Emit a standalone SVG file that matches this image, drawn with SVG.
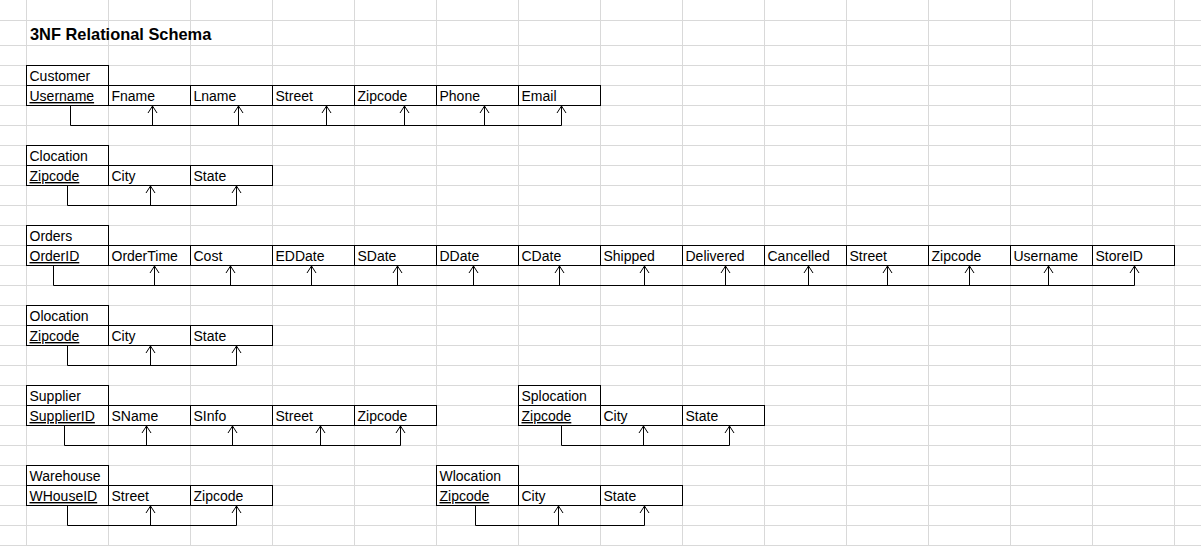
<svg xmlns="http://www.w3.org/2000/svg" width="1201" height="546" viewBox="0 0 1201 546">
<style>
.grid line{stroke:#d9d9d9;stroke-width:1}
.cell{fill:none;stroke:#000;stroke-width:1}
text{font-family:"Liberation Sans",Arial,sans-serif;font-size:14px;fill:#000}
.title{font-weight:bold;font-size:16.4px}
.key{text-decoration:underline}
.conn path{fill:none;stroke:#000;stroke-width:1}
</style>
<defs>
<marker id="arr" markerUnits="userSpaceOnUse" markerWidth="12" markerHeight="12" viewBox="-8 -6 10 12" refX="0" refY="0" orient="auto" overflow="visible">
<path d="M-7,-4.5 L0,0 L-7,4.5" fill="none" stroke="#000" stroke-width="1"/>
</marker>
</defs>
<rect width="1201" height="546" fill="#fff"/>
<g class="grid">
<line x1="26.5" y1="0" x2="26.5" y2="546"/>
<line x1="108.5" y1="0" x2="108.5" y2="546"/>
<line x1="190.5" y1="0" x2="190.5" y2="546"/>
<line x1="272.5" y1="0" x2="272.5" y2="546"/>
<line x1="354.5" y1="0" x2="354.5" y2="546"/>
<line x1="436.5" y1="0" x2="436.5" y2="546"/>
<line x1="518.5" y1="0" x2="518.5" y2="546"/>
<line x1="600.5" y1="0" x2="600.5" y2="546"/>
<line x1="682.5" y1="0" x2="682.5" y2="546"/>
<line x1="764.5" y1="0" x2="764.5" y2="546"/>
<line x1="846.5" y1="0" x2="846.5" y2="546"/>
<line x1="928.5" y1="0" x2="928.5" y2="546"/>
<line x1="1010.5" y1="0" x2="1010.5" y2="546"/>
<line x1="1092.5" y1="0" x2="1092.5" y2="546"/>
<line x1="1174.5" y1="0" x2="1174.5" y2="546"/>
<line x1="0" y1="20.5" x2="1201" y2="20.5"/>
<line x1="0" y1="45.5" x2="1201" y2="45.5"/>
<line x1="0" y1="65.5" x2="1201" y2="65.5"/>
<line x1="0" y1="85.5" x2="1201" y2="85.5"/>
<line x1="0" y1="105.5" x2="1201" y2="105.5"/>
<line x1="0" y1="125.5" x2="1201" y2="125.5"/>
<line x1="0" y1="145.5" x2="1201" y2="145.5"/>
<line x1="0" y1="165.5" x2="1201" y2="165.5"/>
<line x1="0" y1="185.5" x2="1201" y2="185.5"/>
<line x1="0" y1="205.5" x2="1201" y2="205.5"/>
<line x1="0" y1="225.5" x2="1201" y2="225.5"/>
<line x1="0" y1="245.5" x2="1201" y2="245.5"/>
<line x1="0" y1="265.5" x2="1201" y2="265.5"/>
<line x1="0" y1="285.5" x2="1201" y2="285.5"/>
<line x1="0" y1="305.5" x2="1201" y2="305.5"/>
<line x1="0" y1="325.5" x2="1201" y2="325.5"/>
<line x1="0" y1="345.5" x2="1201" y2="345.5"/>
<line x1="0" y1="365.5" x2="1201" y2="365.5"/>
<line x1="0" y1="385.5" x2="1201" y2="385.5"/>
<line x1="0" y1="405.5" x2="1201" y2="405.5"/>
<line x1="0" y1="425.5" x2="1201" y2="425.5"/>
<line x1="0" y1="445.5" x2="1201" y2="445.5"/>
<line x1="0" y1="465.5" x2="1201" y2="465.5"/>
<line x1="0" y1="485.5" x2="1201" y2="485.5"/>
<line x1="0" y1="505.5" x2="1201" y2="505.5"/>
<line x1="0" y1="525.5" x2="1201" y2="525.5"/>
<line x1="0" y1="545.5" x2="1201" y2="545.5"/>
</g>
<text class="title" x="30" y="40">3NF Relational Schema</text>

<g id="customer">
<rect class="cell" x="26.5" y="65.5" width="82" height="20"/>
<text x="29.5" y="81">Customer</text>
<rect class="cell" x="26.5" y="85.5" width="574" height="20"/>
<path class="cell" d="M108.5,85.5V105.5M190.5,85.5V105.5M272.5,85.5V105.5M354.5,85.5V105.5M436.5,85.5V105.5M518.5,85.5V105.5"/>
<text class="key" x="29.5" y="101">Username</text>
<text x="111.5" y="101">Fname</text>
<text x="193.5" y="101">Lname</text>
<text x="275.5" y="101">Street</text>
<text x="357.5" y="101">Zipcode</text>
<text x="439.5" y="101">Phone</text>
<text x="521.5" y="101">Email</text>
</g>

<g id="clocation">
<rect class="cell" x="26.5" y="145.5" width="82" height="20"/>
<text x="29.5" y="161">Clocation</text>
<rect class="cell" x="26.5" y="165.5" width="246" height="20"/>
<path class="cell" d="M108.5,165.5V185.5M190.5,165.5V185.5"/>
<text class="key" x="29.5" y="181">Zipcode</text>
<text x="111.5" y="181">City</text>
<text x="193.5" y="181">State</text>
</g>

<g id="orders">
<rect class="cell" x="26.5" y="225.5" width="82" height="20"/>
<text x="29.5" y="241">Orders</text>
<rect class="cell" x="26.5" y="245.5" width="1148" height="20"/>
<path class="cell" d="M108.5,245.5V265.5M190.5,245.5V265.5M272.5,245.5V265.5M354.5,245.5V265.5M436.5,245.5V265.5M518.5,245.5V265.5M600.5,245.5V265.5M682.5,245.5V265.5M764.5,245.5V265.5M846.5,245.5V265.5M928.5,245.5V265.5M1010.5,245.5V265.5M1092.5,245.5V265.5"/>
<text class="key" x="29.5" y="261">OrderID</text>
<text x="111.5" y="261">OrderTime</text>
<text x="193.5" y="261">Cost</text>
<text x="275.5" y="261">EDDate</text>
<text x="357.5" y="261">SDate</text>
<text x="439.5" y="261">DDate</text>
<text x="521.5" y="261">CDate</text>
<text x="603.5" y="261">Shipped</text>
<text x="685.5" y="261">Delivered</text>
<text x="767.5" y="261">Cancelled</text>
<text x="849.5" y="261">Street</text>
<text x="931.5" y="261">Zipcode</text>
<text x="1013.5" y="261">Username</text>
<text x="1095.5" y="261">StoreID</text>
</g>

<g id="olocation">
<rect class="cell" x="26.5" y="305.5" width="82" height="20"/>
<text x="29.5" y="321">Olocation</text>
<rect class="cell" x="26.5" y="325.5" width="246" height="20"/>
<path class="cell" d="M108.5,325.5V345.5M190.5,325.5V345.5"/>
<text class="key" x="29.5" y="341">Zipcode</text>
<text x="111.5" y="341">City</text>
<text x="193.5" y="341">State</text>
</g>

<g id="supplier">
<rect class="cell" x="26.5" y="385.5" width="82" height="20"/>
<text x="29.5" y="401">Supplier</text>
<rect class="cell" x="26.5" y="405.5" width="410" height="20"/>
<path class="cell" d="M108.5,405.5V425.5M190.5,405.5V425.5M272.5,405.5V425.5M354.5,405.5V425.5"/>
<text class="key" x="29.5" y="421">SupplierID</text>
<text x="111.5" y="421">SName</text>
<text x="193.5" y="421">SInfo</text>
<text x="275.5" y="421">Street</text>
<text x="357.5" y="421">Zipcode</text>
</g>

<g id="splocation">
<rect class="cell" x="518.5" y="385.5" width="82" height="20"/>
<text x="521.5" y="401">Splocation</text>
<rect class="cell" x="518.5" y="405.5" width="246" height="20"/>
<path class="cell" d="M600.5,405.5V425.5M682.5,405.5V425.5"/>
<text class="key" x="521.5" y="421">Zipcode</text>
<text x="603.5" y="421">City</text>
<text x="685.5" y="421">State</text>
</g>

<g id="warehouse">
<rect class="cell" x="26.5" y="465.5" width="82" height="20"/>
<text x="29.5" y="481">Warehouse</text>
<rect class="cell" x="26.5" y="485.5" width="246" height="20"/>
<path class="cell" d="M108.5,485.5V505.5M190.5,485.5V505.5"/>
<text class="key" x="29.5" y="501">WHouseID</text>
<text x="111.5" y="501">Street</text>
<text x="193.5" y="501">Zipcode</text>
</g>

<g id="wlocation">
<rect class="cell" x="436.5" y="465.5" width="82" height="20"/>
<text x="439.5" y="481">Wlocation</text>
<rect class="cell" x="436.5" y="485.5" width="246" height="20"/>
<path class="cell" d="M518.5,485.5V505.5M600.5,485.5V505.5"/>
<text class="key" x="439.5" y="501">Zipcode</text>
<text x="521.5" y="501">City</text>
<text x="603.5" y="501">State</text>
</g>

<g class="conn" id="connectors">
<path d="M70.5,105.5V125.5H561.5"/>
<path d="M152.5,125.5V106" marker-end="url(#arr)"/>
<path d="M238.5,125.5V106" marker-end="url(#arr)"/>
<path d="M326.5,125.5V106" marker-end="url(#arr)"/>
<path d="M404.5,125.5V106" marker-end="url(#arr)"/>
<path d="M484.5,125.5V106" marker-end="url(#arr)"/>
<path d="M561.5,125.5V106" marker-end="url(#arr)"/>

<path d="M67.5,185.5V205.5H236.5"/>
<path d="M150.5,205.5V186" marker-end="url(#arr)"/>
<path d="M236.5,205.5V186" marker-end="url(#arr)"/>

<path d="M53.5,265.5V285.5H1134.5"/>
<path d="M154.5,285.5V266" marker-end="url(#arr)"/>
<path d="M230.5,285.5V266" marker-end="url(#arr)"/>
<path d="M311.5,285.5V266" marker-end="url(#arr)"/>
<path d="M397.5,285.5V266" marker-end="url(#arr)"/>
<path d="M473.5,285.5V266" marker-end="url(#arr)"/>
<path d="M559.5,285.5V266" marker-end="url(#arr)"/>
<path d="M644.5,285.5V266" marker-end="url(#arr)"/>
<path d="M725.5,285.5V266" marker-end="url(#arr)"/>
<path d="M808.5,285.5V266" marker-end="url(#arr)"/>
<path d="M887.5,285.5V266" marker-end="url(#arr)"/>
<path d="M969.5,285.5V266" marker-end="url(#arr)"/>
<path d="M1048.5,285.5V266" marker-end="url(#arr)"/>
<path d="M1134.5,285.5V266" marker-end="url(#arr)"/>

<path d="M67.5,345.5V365.5H236.5"/>
<path d="M150.5,365.5V346" marker-end="url(#arr)"/>
<path d="M236.5,365.5V346" marker-end="url(#arr)"/>

<path d="M64.5,425.5V445.5H400.5"/>
<path d="M146.5,445.5V426" marker-end="url(#arr)"/>
<path d="M232.5,445.5V426" marker-end="url(#arr)"/>
<path d="M320.5,445.5V426" marker-end="url(#arr)"/>
<path d="M400.5,445.5V426" marker-end="url(#arr)"/>

<path d="M561.5,425.5V445.5H729.5"/>
<path d="M643.5,445.5V426" marker-end="url(#arr)"/>
<path d="M729.5,445.5V426" marker-end="url(#arr)"/>

<path d="M67.5,505.5V525.5H236.5"/>
<path d="M150.5,525.5V506" marker-end="url(#arr)"/>
<path d="M236.5,525.5V506" marker-end="url(#arr)"/>

<path d="M475.5,505.5V525.5H644.5"/>
<path d="M558.5,525.5V506" marker-end="url(#arr)"/>
<path d="M644.5,525.5V506" marker-end="url(#arr)"/>
</g>
</svg>
